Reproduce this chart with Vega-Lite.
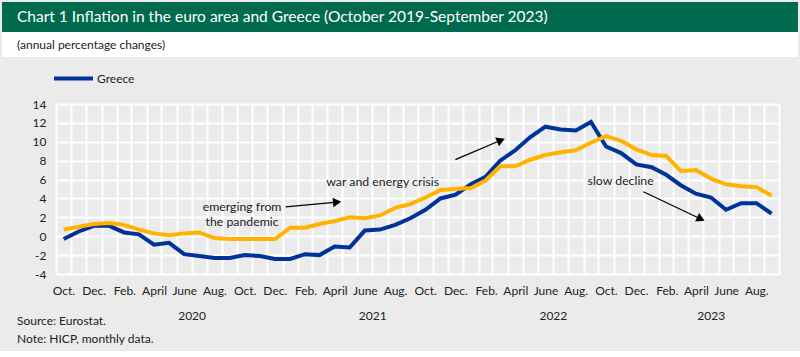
{
  "$schema": "https://vega.github.io/schema/vega-lite/v6.json",
  "background": "#EBEBEB",
  "padding": {"left": 2, "top": 2, "right": 2, "bottom": 6},
  "config": {"font": "Lato", "view": {"stroke": null}},
  "datasets": {
    "hicp": [
      {"month": "2019-10", "greece": -0.3, "euro_area": 0.7},
      {"month": "2019-11", "greece": 0.5, "euro_area": 1.0},
      {"month": "2019-12", "greece": 1.1, "euro_area": 1.3},
      {"month": "2020-01", "greece": 1.1, "euro_area": 1.4},
      {"month": "2020-02", "greece": 0.4, "euro_area": 1.2},
      {"month": "2020-03", "greece": 0.2, "euro_area": 0.7},
      {"month": "2020-04", "greece": -0.9, "euro_area": 0.3},
      {"month": "2020-05", "greece": -0.7, "euro_area": 0.1},
      {"month": "2020-06", "greece": -1.9, "euro_area": 0.3},
      {"month": "2020-07", "greece": -2.1, "euro_area": 0.4},
      {"month": "2020-08", "greece": -2.3, "euro_area": -0.2},
      {"month": "2020-09", "greece": -2.3, "euro_area": -0.3},
      {"month": "2020-10", "greece": -2.0, "euro_area": -0.3},
      {"month": "2020-11", "greece": -2.1, "euro_area": -0.3},
      {"month": "2020-12", "greece": -2.4, "euro_area": -0.3},
      {"month": "2021-01", "greece": -2.4, "euro_area": 0.9},
      {"month": "2021-02", "greece": -1.9, "euro_area": 0.9},
      {"month": "2021-03", "greece": -2.0, "euro_area": 1.3},
      {"month": "2021-04", "greece": -1.1, "euro_area": 1.6},
      {"month": "2021-05", "greece": -1.2, "euro_area": 2.0},
      {"month": "2021-06", "greece": 0.6, "euro_area": 1.9},
      {"month": "2021-07", "greece": 0.7, "euro_area": 2.2},
      {"month": "2021-08", "greece": 1.2, "euro_area": 3.0},
      {"month": "2021-09", "greece": 1.9, "euro_area": 3.4},
      {"month": "2021-10", "greece": 2.8, "euro_area": 4.1},
      {"month": "2021-11", "greece": 4.0, "euro_area": 4.9},
      {"month": "2021-12", "greece": 4.4, "euro_area": 5.0},
      {"month": "2022-01", "greece": 5.5, "euro_area": 5.1},
      {"month": "2022-02", "greece": 6.3, "euro_area": 5.9},
      {"month": "2022-03", "greece": 8.0, "euro_area": 7.4},
      {"month": "2022-04", "greece": 9.1, "euro_area": 7.4},
      {"month": "2022-05", "greece": 10.5, "euro_area": 8.1},
      {"month": "2022-06", "greece": 11.6, "euro_area": 8.6},
      {"month": "2022-07", "greece": 11.3, "euro_area": 8.9},
      {"month": "2022-08", "greece": 11.2, "euro_area": 9.1},
      {"month": "2022-09", "greece": 12.1, "euro_area": 9.9},
      {"month": "2022-10", "greece": 9.5, "euro_area": 10.6},
      {"month": "2022-11", "greece": 8.8, "euro_area": 10.1},
      {"month": "2022-12", "greece": 7.6, "euro_area": 9.2},
      {"month": "2023-01", "greece": 7.3, "euro_area": 8.6},
      {"month": "2023-02", "greece": 6.5, "euro_area": 8.5},
      {"month": "2023-03", "greece": 5.4, "euro_area": 6.9},
      {"month": "2023-04", "greece": 4.5, "euro_area": 7.0},
      {"month": "2023-05", "greece": 4.1, "euro_area": 6.1},
      {"month": "2023-06", "greece": 2.8, "euro_area": 5.5},
      {"month": "2023-07", "greece": 3.5, "euro_area": 5.3},
      {"month": "2023-08", "greece": 3.5, "euro_area": 5.2},
      {"month": "2023-09", "greece": 2.4, "euro_area": 4.3}
    ]
  },
  "spacing": 0,
  "resolve": {"legend": {"color": "independent"}},
  "vconcat": [
    {
      "width": 796,
      "height": 30,
      "view": {"fill": "#006A4E", "stroke": null},
      "data": {"values": [{"t": "Chart 1 Inflation in  the euro area and Greece (October 2019-September 2023)"}]},
      "mark": {"type": "text", "align": "left", "baseline": "middle", "color": "white", "fontSize": 15.5, "font": "Lato"},
      "encoding": {
        "x": {"datum": 0, "type": "quantitative", "scale": {"domain": [0, 1], "range": [15, 796]}, "axis": null},
        "text": {"field": "t"}
      }
    },
    {
      "width": 796,
      "height": 25,
      "view": {"fill": "white", "stroke": null},
      "data": {"values": [{"t": "(annual percentage changes)"}]},
      "mark": {"type": "text", "align": "left", "baseline": "middle", "color": "#222222", "fontSize": 12, "font": "Lato"},
      "encoding": {
        "x": {"datum": 0, "type": "quantitative", "scale": {"domain": [0, 1], "range": [15, 796]}, "axis": null},
        "text": {"field": "t"}
      }
    },
    {
      "width": 777,
      "height": 170,
      "view": {"stroke": null},
      "data": {"name": "hicp"},
      "title": {
        "text": "Source: Eurostat.",
        "subtitle": "Note: HICP, monthly data.",
        "orient": "bottom", "anchor": "start", "frame": "bounds",
        "offset": -5, "dx": 15, "baseline": "top",
        "fontSize": 12, "subtitleFontSize": 12, "fontWeight": "normal",
        "color": "#222222", "subtitleColor": "#222222", "subtitlePadding": 6,
        "font": "Lato", "subtitleFont": "Lato"
      },
      "resolve": {"axis": {"x": "independent", "y": "independent"}},
      "layer": [
        {
          "mark": {"type": "line", "strokeWidth": 4},
          "encoding": {
            "x": {
              "field": "month", "type": "temporal", "timeUnit": "utcyearmonth", "bandPosition": 0.5,
              "scale": {"type": "utc", "range": [54, 777], "domain": [{"year": 2019, "month": 10, "date": 1, "utc": true}, {"year": 2023, "month": 10, "date": 1, "utc": true}]},
              "axis": {
                "title": null, "orient": "bottom",
                "tickCount": {"interval": "month", "step": 1},
                "grid": true, "gridColor": "#FFFFFF", "gridWidth": 2, "gridOpacity": 1,
                "domain": false, "ticks": false,
                "labelExpr": "utcyear(datum.value)==2023 && utcmonth(datum.value)==9 ? '' : utcmonth(datum.value)==9 ? 'Oct.' : utcmonth(datum.value)==11 ? 'Dec.' : utcmonth(datum.value)==1 ? 'Feb.' : utcmonth(datum.value)==3 ? 'April' : utcmonth(datum.value)==5 ? 'June' : utcmonth(datum.value)==7 ? 'Aug.' : ''",
                "labelOffset": 7.5, "labelPadding": 11, "labelFontSize": 12, "labelColor": "#222222",
                "labelOverlap": false, "labelFlush": false, "labelBound": false, "labelAngle": 0, "labelAlign": "center"
              }
            },
            "y": {
              "field": "greece", "type": "quantitative", "title": null,
              "scale": {"domain": [-4, 14], "nice": false, "zero": false},
              "axis": {
                "title": null, "orient": "left", "values": [-4, -2, 0, 2, 4, 6, 8, 10, 12, 14],
                "grid": true, "gridColor": "#FFFFFF", "gridWidth": 2, "gridOpacity": 1,
                "domain": false, "ticks": false, "labelPadding": -44,
                "labelFontSize": 12, "labelColor": "#222222", "labelOverlap": false,
                "labelExpr": "'' + datum.value"
              }
            },
            "color": {
              "datum": "Greece",
              "scale": {"domain": ["Greece", "Euro area"], "range": ["#003399", "#FFB300"]},
              "legend": {
                "orient": "none", "legendX": 50, "legendY": -47, "title": null,
                "values": ["Greece"], "symbolType": "stroke", "symbolStrokeWidth": 4,
                "symbolSize": 1521, "labelFontSize": 12, "labelColor": "#222222",
                "labelOffset": 2, "padding": 0
              }
            }
          }
        },
        {
          "mark": {"type": "line", "strokeWidth": 4},
          "encoding": {
            "x": {
              "field": "month", "type": "temporal", "timeUnit": "utcyearmonth", "bandPosition": 0.5,
              "axis": {
                "title": null, "orient": "bottom",
                "values": [
                  {"year": 2020, "month": 7, "date": 1, "utc": true},
                  {"year": 2021, "month": 7, "date": 1, "utc": true},
                  {"year": 2022, "month": 7, "date": 1, "utc": true},
                  {"year": 2023, "month": 5, "date": 16, "utc": true}
                ],
                "grid": false, "domain": false, "ticks": false, "offset": 36, "labelPadding": 0,
                "labelExpr": "utcFormat(datum.value, '%Y')",
                "labelFontSize": 12, "labelColor": "#222222",
                "labelOverlap": false, "labelFlush": false, "labelBound": false, "labelAngle": 0
              }
            },
            "y": {"field": "euro_area", "type": "quantitative", "title": null, "axis": null},
            "color": {"datum": "Euro area"}
          }
        },
        {
          "data": {"values": [{}]},
          "mark": {"type": "text", "fontSize": 12.3, "color": "#222222", "align": "center", "baseline": "middle", "lineHeight": 15},
          "encoding": {
            "x": {"datum": {"year": 2020, "month": 10, "date": 11, "utc": true}, "type": "temporal", "axis": null},
            "y": {"datum": 3.12, "type": "quantitative", "axis": null},
            "text": {"value": ["emerging from", "the pandemic"]}
          }
        },
        {
          "data": {"values": [{}]},
          "mark": {"type": "text", "fontSize": 12.3, "color": "#222222", "align": "center", "baseline": "middle"},
          "encoding": {
            "x": {"datum": {"year": 2021, "month": 7, "date": 22, "utc": true}, "type": "temporal", "axis": null},
            "y": {"datum": 5.7, "type": "quantitative", "axis": null},
            "text": {"value": "war and energy crisis"}
          }
        },
        {
          "data": {"values": [{}]},
          "mark": {"type": "text", "fontSize": 12.3, "color": "#222222", "align": "center", "baseline": "middle"},
          "encoding": {
            "x": {"datum": {"year": 2022, "month": 11, "date": 15, "utc": true}, "type": "temporal", "axis": null},
            "y": {"datum": 5.9, "type": "quantitative", "axis": null},
            "text": {"value": "slow decline"}
          }
        },
        {
          "data": {"values": [{}]},
          "mark": {"type": "rule", "color": "black", "strokeWidth": 1.3},
          "encoding": {
            "x": {"datum": {"year": 2021, "month": 1, "date": 7, "utc": true}, "type": "temporal", "axis": null},
            "x2": {"datum": {"year": 2021, "month": 4, "date": 21, "utc": true}},
            "y": {"datum": 3.1, "type": "quantitative", "axis": null},
            "y2": {"datum": 3.6}
          }
        },
        {
          "data": {"values": [{}]},
          "mark": {"type": "point", "shape": "triangle-right", "filled": true, "color": "black", "opacity": 1, "size": 90, "angle": -5},
          "encoding": {
            "x": {"datum": {"year": 2021, "month": 4, "date": 21, "utc": true}, "type": "temporal", "axis": null},
            "y": {"datum": 3.6, "type": "quantitative", "axis": null}
          }
        },
        {
          "data": {"values": [{}]},
          "mark": {"type": "rule", "color": "black", "strokeWidth": 1.3},
          "encoding": {
            "x": {"datum": {"year": 2021, "month": 12, "date": 16, "utc": true}, "type": "temporal", "axis": null},
            "x2": {"datum": {"year": 2022, "month": 3, "date": 18, "utc": true}},
            "y": {"datum": 8.1, "type": "quantitative", "axis": null},
            "y2": {"datum": 10.16}
          }
        },
        {
          "data": {"values": [{}]},
          "mark": {"type": "point", "shape": "triangle-right", "filled": true, "color": "black", "opacity": 1, "size": 90, "angle": -23},
          "encoding": {
            "x": {"datum": {"year": 2022, "month": 3, "date": 18, "utc": true}, "type": "temporal", "axis": null},
            "y": {"datum": 10.16, "type": "quantitative", "axis": null}
          }
        },
        {
          "data": {"values": [{}]},
          "mark": {"type": "rule", "color": "black", "strokeWidth": 1.3},
          "encoding": {
            "x": {"datum": {"year": 2022, "month": 12, "date": 31, "utc": true}, "type": "temporal", "axis": null},
            "x2": {"datum": {"year": 2023, "month": 4, "date": 26, "utc": true}},
            "y": {"datum": 4.71, "type": "quantitative", "axis": null},
            "y2": {"datum": 1.82}
          }
        },
        {
          "data": {"values": [{}]},
          "mark": {"type": "point", "shape": "triangle-right", "filled": true, "color": "black", "opacity": 1, "size": 90, "angle": 25},
          "encoding": {
            "x": {"datum": {"year": 2023, "month": 4, "date": 26, "utc": true}, "type": "temporal", "axis": null},
            "y": {"datum": 1.82, "type": "quantitative", "axis": null}
          }
        }
      ]
    }
  ]
}
